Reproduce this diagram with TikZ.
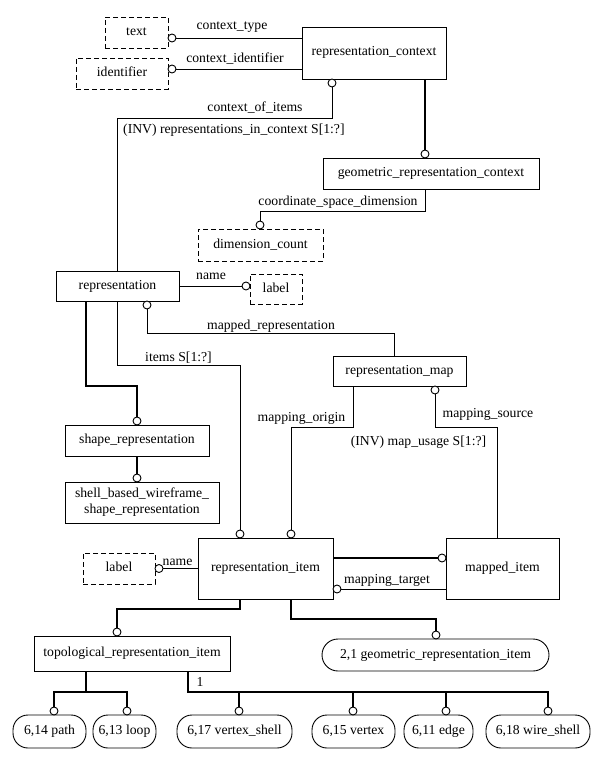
\documentclass[tikz,border=0pt]{standalone}
\usepackage{fontspec}
\setmainfont{Liberation Serif}
\usetikzlibrary{calc}
\begin{document}
\begin{tikzpicture}[x=1pt,y=-1pt,
  every node/.style={font=\fontsize{13.7}{16}\selectfont, inner sep=0pt},
  tx/.style={text height=9.5pt, text depth=3.5pt},
  ent/.style={draw, line width=0.9pt, rectangle, align=center},
  typ/.style={ent, dashed, dash pattern=on 5pt off 3pt},
  pg/.style={ent, rounded corners=15pt},
  oc/.style={circle, draw, fill=white, line width=0.9pt, minimum size=8pt},
  rel/.style={line width=0.9pt},
  sup/.style={line width=2pt},
]
\useasboundingbox (0,0) rectangle (605,765);
% entities
\node[typ,tx,minimum width=63pt,minimum height=31pt] (text) at (136.5,32.5) {text};
\node[typ,tx,minimum width=92pt,minimum height=31pt] (ident) at (122,73.5) {identifier};
\node[ent,tx,minimum width=144pt,minimum height=52pt] (rc) at (374,53) {representation\_context};
\node[ent,tx,minimum width=216pt,minimum height=31pt] (grc) at (431,173.5) {geometric\_representation\_context};
\node[typ,tx,minimum width=125pt,minimum height=32pt] (dc) at (260.5,245) {dimension\_count};
\node[ent,tx,minimum width=123pt,minimum height=30pt] (rep) at (117.5,286) {representation};
\node[typ,tx,minimum width=52pt,minimum height=30pt] (lab1) at (276,289) {label};
\node[ent,tx,minimum width=144pt,minimum height=31pt] (sr) at (137,440.5) {shape\_representation};
\node[ent,minimum width=154pt,minimum height=41pt] (sbw) at (142,502.5) {shell\_based\_wireframe\_\\shape\_representation};
\node[ent,tx,minimum width=133pt,minimum height=30pt] (rm) at (399.5,371) {representation\_map};
\node[ent,tx,minimum width=135pt,minimum height=61pt] (ri) at (265.5,568.5) {representation\_item};
\node[ent,tx,minimum width=113pt,minimum height=61pt] (mi) at (502.5,568.5) {mapped\_item};
\node[typ,tx,minimum width=72pt,minimum height=31pt] (lab2) at (119,568.5) {label};
\node[ent,tx,minimum width=196pt,minimum height=35pt] (tri) at (132,653.5) {topological\_representation\_item};
\node[ent,tx,rounded corners=16pt,minimum width=227pt,minimum height=32pt] (gri) at (435.5,655) {2,1 geometric\_representation\_item};
\node[pg,tx,minimum width=73pt,minimum height=33pt] (path) at (49.5,731.5) {6,14 path};
\node[pg,tx,minimum width=63pt,minimum height=33pt] (loop) at (124.5,731.5) {6,13 loop};
\node[pg,tx,minimum width=115pt,minimum height=33pt] (vshell) at (234.5,731.5) {6,17 vertex\_shell};
\node[pg,tx,minimum width=83pt,minimum height=33pt] (vertex) at (353.5,731.5) {6,15 vertex};
\node[pg,tx,minimum width=69pt,minimum height=33pt] (edge) at (438.5,731.5) {6,11 edge};
\node[pg,tx,minimum width=104pt,minimum height=33pt] (wshell) at (538,731.5) {6,18 wire\_shell};
% circle positions
\coordinate (p_ct) at (172,38);
\coordinate (p_ci) at (172,69);
\coordinate (p_coi) at (332,83);
\coordinate (p_grc) at (425,154);
\coordinate (p_dc) at (260,225);
\coordinate (p_nm1) at (246,286);
\coordinate (p_mr) at (147,305);
\coordinate (p_sr) at (137,421);
\coordinate (p_sbw) at (137,478);
\coordinate (p_ms) at (435,390);
\coordinate (p_it) at (240,534);
\coordinate (p_mo) at (291,534);
\coordinate (p_mi) at (442,558);
\coordinate (p_mt) at (337,589);
\coordinate (p_nm2) at (159,568.5);
\coordinate (p_tri) at (117,632);
\coordinate (p_gri) at (436,635);
\coordinate (p_path) at (54,711);
\coordinate (p_loop) at (127,711);
\coordinate (p_vs) at (239,711);
\coordinate (p_v) at (353,711);
\coordinate (p_e) at (446,711);
\coordinate (p_ws) at (548,711);
% thin relationship lines
\draw[rel] (rc.west |- p_ct) -- (p_ct);
\draw[rel] (rc.west |- p_ci) -- (p_ci);
\draw[rel] (rep.north) -- ++(0,-152) -| (p_coi);
\draw[rel] (grc.south -| p_grc) -- ++(0,22) -| (p_dc);
\draw[rel] (rep.east |- p_nm1) -- (p_nm1);
\draw[rel] ([xshift=-5.5pt]rm.north) -- ++(0,-22) -| (p_mr);
\draw[rel] (rep.south) -- ++(0,64) -| (p_it);
\draw[rel] ([xshift=-46.5pt]rm.south) -- ++(0,41) -| (p_mo);
\draw[rel] (p_ms) -- ++(0,37) -| ([xshift=-5.5pt]mi.north);
\draw[rel] (mi.west |- p_mt) -- (p_mt);
\draw[rel] (ri.west |- p_nm2) -- (p_nm2);
% thick supertype lines
\draw[sup] (rc.south -| p_grc) -- (p_grc);
\draw[sup] ([xshift=-31.5pt]rep.south) -- ++(0,85) -| (p_sr);
\draw[sup] (sr.south -| p_sbw) -- (p_sbw);
\draw[sup] (ri.east |- p_mi) -- (p_mi);
\draw[sup] (ri.south -| p_it) -- ++(0,10) -| (p_tri);
\draw[sup] (ri.south -| p_mo) -- ++(0,20) -| (p_gri);
\draw[sup] ([xshift=-46pt]tri.south) -- ++(0,21) coordinate (j1);
\draw[sup] (p_path) |- (j1) -| (p_loop);
\draw[sup] ([xshift=56pt]tri.south) -- ++(0,21) coordinate (j2) -| (p_ws);
\draw[sup] (p_vs |- j2) -- (p_vs);
\draw[sup] (p_v |- j2) -- (p_v);
\draw[sup] (p_e |- j2) -- (p_e);
% open circles
\foreach \c in {ct,ci,coi,grc,dc,nm1,mr,sr,sbw,ms,it,mo,mi,mt,nm2,tri,gri,path,loop,vs,v,e,ws}
  \node[oc] (c\c) at (p_\c) {};
% labels
\node[tx] (l1) at (232,27) {context\_type};
\node[tx] (l2) at (235,60) {context\_identifier};
\node[tx] (l3) at (255,109) {context\_of\_items};
\node[tx,anchor=west] (l4) at (123,131) {(INV) representations\_in\_context S[1:?]};
\node[tx] (l5) at (338,202) {coordinate\_space\_dimension};
\node[tx] (l6) at (211,276) {name};
\node[tx] (l7) at (271,326) {mapped\_representation};
\node[tx] (l8) at (178.5,358) {items S[1:?]};
\node[tx] (l9) at (301.5,418) {mapping\_origin};
\node[tx] (l10) at (488,414) {mapping\_source};
\node[tx] (l11) at (418.5,442) {(INV) map\_usage S[1:?]};
\node[tx] (l12) at (177.5,562) {name};
\node[tx] (l13) at (387,580) {mapping\_target};
\node[tx] (l14) at (200,683) {1};
\end{tikzpicture}
\end{document}
